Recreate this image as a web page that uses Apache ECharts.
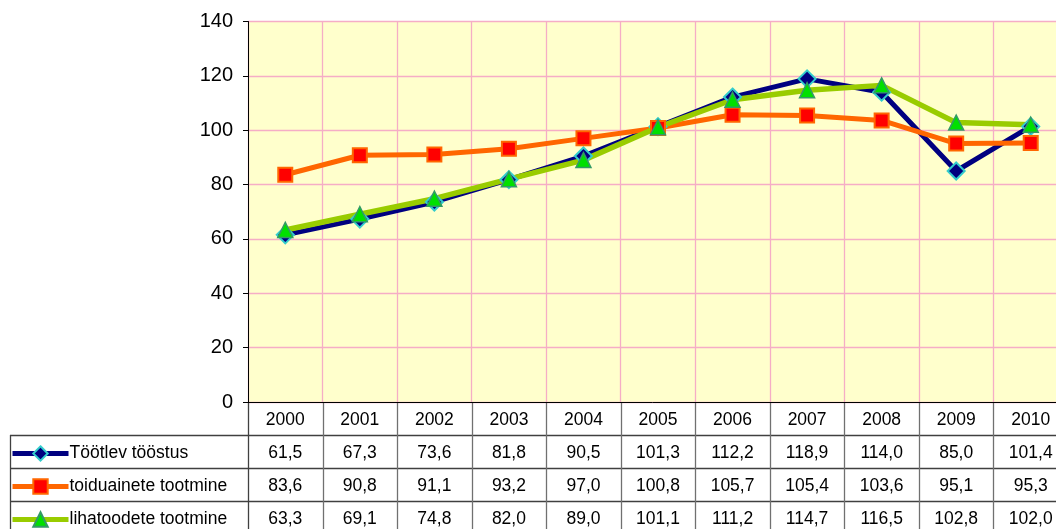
<!DOCTYPE html>
<html>
<head>
<meta charset="utf-8">
<script src="https://cdn.jsdelivr.net/npm/echarts@6/dist/echarts.min.js"></script>
<style>
html,body{margin:0;padding:0;background:#fff;overflow:hidden;}
#c{width:1056px;height:529px;}
</style>
</head>
<body>
<div id="c"></div>
<script>
var years = ['2000','2001','2002','2003','2004','2005','2006','2007','2008','2009','2010'];
var seriesNames = ['Töötlev tööstus','toiduainete tootmine','lihatoodete tootmine'];
var tootlev = [61.5,67.3,73.6,81.8,90.5,101.3,112.2,118.9,114.0,85.0,101.4];
var toiduained = [83.6,90.8,91.1,93.2,97.0,100.8,105.7,105.4,103.6,95.1,95.3];
var lihatooted = [63.3,69.1,74.8,82.0,89.0,101.1,111.2,114.7,116.5,102.8,102.0];
var yTicks = [0,20,40,60,80,100,120,140];

var FONT = 'Liberation Sans, Arial, sans-serif';
var ROW_H = 33;
var GRID_TOP = 21.5, GRID_BOTTOM_Y = 402;
var chart = echarts.init(document.getElementById('c'));

var styles = [
  {lineStyle:{color:'#000080',width:5}, itemStyle:{color:'#000080',borderColor:'#33CCCC',borderWidth:2}},
  {lineStyle:{color:'#FF6600',width:5}, itemStyle:{color:'#FF0000',borderColor:'#FF6600',borderWidth:2}},
  {lineStyle:{color:'#99CC00',width:5.5}, itemStyle:{color:'#00E000',borderColor:'#339966',borderWidth:1.5}}
];
var legends = seriesNames.map(function(n,i){
  return {
    orient:'horizontal', left:10, top:GRID_BOTTOM_Y + (i+1)*ROW_H + 9.5,
    itemWidth:56, itemHeight:18, padding:0,
    textStyle:{fontFamily:FONT,fontSize:17.5,color:'#000',padding:[3,0,0,-4]},
    lineStyle:{width:5},
    data:[n]
  };
});

var option = {
  animation:false,
  backgroundColor:'#ffffff',
  grid:{left:248,top:GRID_TOP,width:820,height:GRID_BOTTOM_Y-GRID_TOP,show:true,backgroundColor:'#FFFFCC',borderWidth:0,containLabel:false,outerBoundsMode:'none'},
  legend:legends,
  xAxis:{
    type:'category', data:years, boundaryGap:true,
    axisLine:{show:true,lineStyle:{color:'#000',width:1}},
    axisTick:{show:false},
    axisLabel:{fontFamily:FONT,fontSize:17.5,color:'#000',margin:9},
    splitLine:{show:true,interval:0,lineStyle:{color:'#f5adc6',width:1.3}}
  },
  yAxis:{
    type:'value', min:yTicks[0], max:yTicks[yTicks.length-1], interval:20,
    axisLine:{show:true,lineStyle:{color:'#000',width:1}},
    axisTick:{show:true,length:5,lineStyle:{color:'#000'}},
    axisLabel:{fontFamily:FONT,fontSize:20,color:'#000',margin:15},
    splitLine:{show:true,lineStyle:{color:'#f5adc6',width:1.3}}
  },
  series:[
    {name:seriesNames[0],type:'line',data:tootlev,symbol:'diamond',symbolSize:17,
     lineStyle:styles[0].lineStyle, itemStyle:styles[0].itemStyle},
    {name:seriesNames[1],type:'line',data:toiduained,symbol:'rect',symbolSize:14,
     lineStyle:styles[1].lineStyle, itemStyle:styles[1].itemStyle},
    {name:seriesNames[2],type:'line',data:lihatooted,symbol:'triangle',symbolSize:15,
     lineStyle:styles[2].lineStyle, itemStyle:styles[2].itemStyle}
  ]
};
chart.setOption(option);

function fmt(v){return v.toFixed(1).replace('.',',');}
var c0 = chart.convertToPixel({xAxisIndex:0},0);
var c1 = chart.convertToPixel({xAxisIndex:0},1);
var w = c1-c0;
var yBottom = chart.convertToPixel({yAxisIndex:0},0);
var tableLeft = 10;
var gridLeft = c0 - w/2;
var gridRight = chart.convertToPixel({xAxisIndex:0},years.length-1) + w/2;
var hColor = '#404040', vColor = '#707070';
var g = [];
for (var r=1;r<=4;r++){
  var y = Math.round(yBottom + r*ROW_H)+0.5;
  g.push({type:'line',shape:{x1:tableLeft,y1:y,x2:gridRight,y2:y},style:{stroke:hColor,lineWidth:1.3},silent:true});
}
g.push({type:'line',shape:{x1:tableLeft+0.5,y1:yBottom+ROW_H,x2:tableLeft+0.5,y2:529},style:{stroke:hColor,lineWidth:1.3},silent:true});
for (var i=0;i<=years.length;i++){
  var x = Math.round(gridLeft + i*w)+0.5;
  g.push({type:'line',shape:{x1:x,y1:yBottom,x2:x,y2:529},style:{stroke:i===0?hColor:vColor,lineWidth:1.3},silent:true});
}
var rows = [tootlev,toiduained,lihatooted];
for (var r=0;r<rows.length;r++){
  for (var i=0;i<years.length;i++){
    var cx = chart.convertToPixel({xAxisIndex:0},i);
    g.push({type:'text',x:cx,y:yBottom + (r+1)*ROW_H + ROW_H/2 + 1.5,
      style:{text:fmt(rows[r][i]),fontFamily:FONT,fontSize:17.5,fill:'#000',align:'center',verticalAlign:'middle'},silent:true});
  }
}
chart.setOption({graphic:g});
</script>
</body>
</html>
